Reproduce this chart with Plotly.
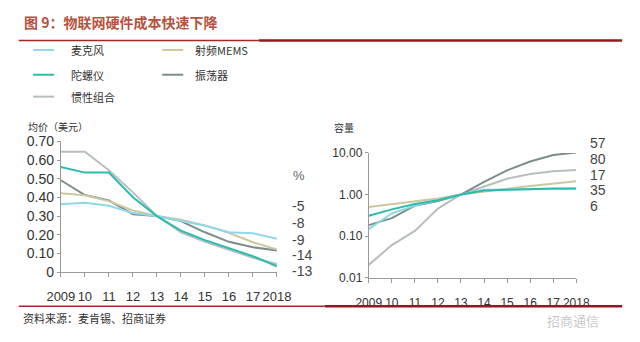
import plotly.graph_objects as go

W, H = 640, 342

years = ["2009", "2010", "2011", "2012", "2013", "2014", "2015", "2016", "2017", "2018"]
year_labels = ["2009", "10", "11", "12", "13", "14", "15", "16", "17", "2018"]

series_names = ["麦克风", "射频MEMS", "陀螺仪", "振荡器", "惯性组合"]
series_colors = ["#8fd8ea", "#cdc69e", "#2cbcae", "#7b8d8b", "#b8bebf"]

# average price, USD
price_mic = [0.364, 0.372, 0.355, 0.316, 0.300, 0.273, 0.248, 0.213, 0.208, 0.179]
price_rf = [0.422, 0.412, 0.380, 0.330, 0.300, 0.280, 0.250, 0.210, 0.160, 0.120]
price_gyro = [0.563, 0.533, 0.533, 0.401, 0.300, 0.222, 0.171, 0.130, 0.085, 0.030]
price_osc = [0.492, 0.413, 0.384, 0.310, 0.300, 0.273, 0.213, 0.162, 0.133, 0.116]
price_imu = [0.645, 0.645, 0.546, 0.427, 0.300, 0.213, 0.162, 0.120, 0.077, 0.043]

# volume index (log scale)
vol_mic = [0.147, 0.35, 0.54, 0.74, 1.0, 1.30, 1.33, 1.35, 1.37, 1.38]
vol_rf = [0.50, 0.59, 0.67, 0.80, 1.0, 1.19, 1.37, 1.60, 1.84, 2.08]
vol_gyro = [0.31, 0.44, 0.59, 0.73, 1.0, 1.25, 1.30, 1.35, 1.39, 1.39]
vol_osc = [0.184, 0.27, 0.54, 0.70, 1.0, 2.0, 3.8, 6.2, 8.9, 10.2]
vol_imu = [0.0204, 0.061, 0.134, 0.46, 1.0, 1.55, 2.4, 3.1, 3.6, 3.9]

price_series = [price_mic, price_rf, price_gyro, price_osc, price_imu]
vol_series = [vol_mic, vol_rf, vol_gyro, vol_osc, vol_imu]

price_ticks = [0, 0.1, 0.2, 0.3, 0.4, 0.5, 0.6, 0.7]
price_tick_text = ["0", "0.10", "0.20", "0.30", "0.40", "0.50", "0.60", "0.70"]
vol_ticks = [0.01, 0.1, 1, 10]
vol_tick_text = ["0.01", "0.10", "1.00", "10.00"]

cagr_price = ["-5", "-8", "-9", "-14", "-13"]
cagr_vol = ["57", "80", "17", "35", "6"]

FONT = "Liberation Sans, Arial, sans-serif"
CJK = "Noto Sans CJK SC, sans-serif"


def px(x):
    return x / W


def py(y):
    return 1 - y / H


fig = go.Figure()

draw_order = [4, 3, 1, 0, 2]
for i in draw_order:
    fig.add_trace(go.Scatter(
        x=years, y=price_series[i], mode="lines", name=series_names[i],
        line=dict(color=series_colors[i], width=2), xaxis="x", yaxis="y",
        showlegend=False))
for i in draw_order:
    fig.add_trace(go.Scatter(
        x=years, y=vol_series[i], mode="lines", name=series_names[i],
        line=dict(color=series_colors[i], width=2), xaxis="x2", yaxis="y2",
        showlegend=False))

axis_common = dict(showgrid=False, zeroline=False, showline=True,
                   linecolor="#9a9a9a", linewidth=1, ticks="outside",
                   tickcolor="#9a9a9a", ticklen=4)

fig.update_layout(
    width=W, height=H, margin=dict(l=0, r=0, t=0, b=0),
    paper_bgcolor="white", plot_bgcolor="white",
    xaxis=dict(domain=[px(49), px(275)], type="category", range=[0, 9],
               tickvals=years, ticktext=year_labels, anchor="y",
               tickfont=dict(family=FONT, size=13, color="#333"),
               ticklabelstandoff=8, **axis_common),
    yaxis=dict(domain=[py(277), py(140)], range=[0, 0.7], anchor="x",
               tickvals=price_ticks, ticktext=price_tick_text,
               tickfont=dict(family=FONT, size=14, color="#333"),
               ticklen=3, **{k: v for k, v in axis_common.items() if k != "ticklen"}),
    xaxis2=dict(domain=[px(371), px(588)], type="category", range=[0, 9],
                tickvals=years, ticktext=year_labels, anchor="y2",
                tickfont=dict(family=FONT, size=12, color="#333"),
                ticklabelstandoff=10, **axis_common),
    yaxis2=dict(domain=[py(283), py(152)], type="log", range=[-2, 1], anchor="x2",
                tickvals=vol_ticks, ticktext=vol_tick_text,
                tickfont=dict(family=FONT, size=12, color="#333"),
                ticklen=3, **{k: v for k, v in axis_common.items() if k != "ticklen"}),
)

shapes = []
annotations = []

# header and footer rules
for y0, split in ((34, 256), (313, 325)):
    shapes.append(dict(type="line", xref="paper", yref="paper",
                       x0=px(5), x1=px(split), y0=py(y0), y1=py(y0),
                       line=dict(color="#a3262a", width=1.5)))
    shapes.append(dict(type="line", xref="paper", yref="paper",
                       x0=px(split), x1=px(636), y0=py(y0), y1=py(y0),
                       line=dict(color="#8e1b20", width=2.5)))

annotations.append(dict(text="<b>图 9：物联网硬件成本快速下降</b>", xref="paper", yref="paper",
                        x=px(8), y=py(15), xanchor="left", yanchor="middle",
                        showarrow=False, font=dict(family=CJK, size=14, color="#b4523e")))

# legend
legend_pos = [(20, 44), (155, 44), (20, 70), (155, 70), (20, 93)]
for name, color, (lx, ly) in zip(series_names, series_colors, legend_pos):
    shapes.append(dict(type="line", xref="paper", yref="paper",
                       x0=px(lx), x1=px(lx + 22), y0=py(ly), y1=py(ly),
                       line=dict(color=color, width=2)))
    annotations.append(dict(text=name, xref="paper", yref="paper",
                            x=px(lx + 37 if lx < 100 else lx + 32), y=py(ly),
                            xanchor="left", yanchor="middle", showarrow=False,
                            font=dict(family=CJK, size=11, color="#333")))

annotations.append(dict(text="均价（美元）", xref="paper", yref="paper", x=px(13), y=py(124),
                        xanchor="left", yanchor="middle", showarrow=False,
                        font=dict(family=CJK, size=10, color="#333")))
annotations.append(dict(text="容量", xref="paper", yref="paper", x=px(333), y=py(125),
                        xanchor="left", yanchor="middle", showarrow=False,
                        font=dict(family=CJK, size=10, color="#333")))

annotations.append(dict(text="%", xref="paper", yref="paper", x=px(290), y=py(176),
                        xanchor="left", yanchor="middle", showarrow=False,
                        font=dict(family=FONT, size=13, color="#666")))
for txt, ly in zip(cagr_price, [208, 226, 243, 259, 276]):
    annotations.append(dict(text=txt, xref="paper", yref="paper", x=px(289), y=py(ly),
                            xanchor="left", yanchor="middle", showarrow=False,
                            font=dict(family=FONT, size=14, color="#444")))
for txt, ly in zip(cagr_vol, [142, 158, 175, 191, 208]):
    annotations.append(dict(text=txt, xref="paper", yref="paper", x=px(600), y=py(ly),
                            xanchor="left", yanchor="middle", showarrow=False,
                            font=dict(family=FONT, size=14, color="#444")))

annotations.append(dict(text="资料来源：麦肯锡、招商证券", xref="paper", yref="paper",
                        x=px(7), y=py(325), xanchor="left", yanchor="middle",
                        showarrow=False, font=dict(family=CJK, size=11, color="#333")))

# account watermark below the footer rule
annotations.append(dict(text="招商通信", xref="paper", yref="paper",
                        x=px(585), y=py(328), xanchor="center", yanchor="middle",
                        showarrow=False, font=dict(family=CJK, size=13, color="rgba(150,150,150,0.55)")))

fig.update_layout(shapes=shapes, annotations=annotations)

fig.write_html("out.html")
